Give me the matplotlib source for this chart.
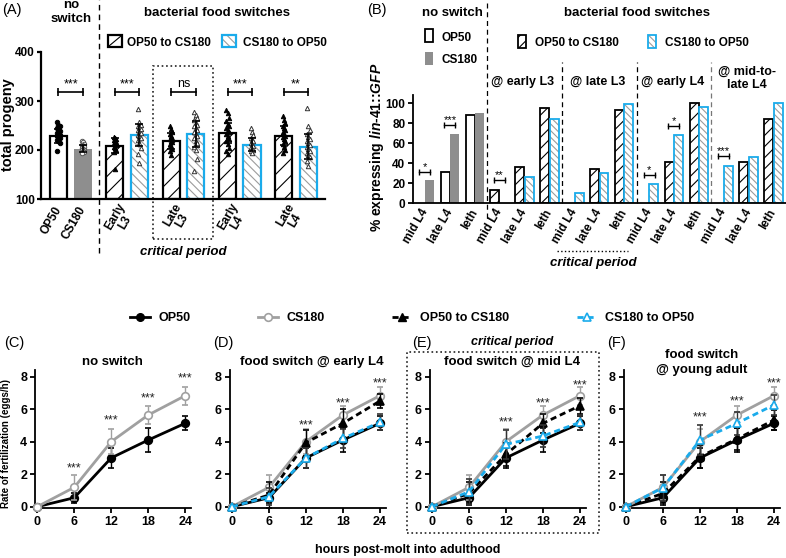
import numpy as np
import matplotlib
matplotlib.use("Agg")
import matplotlib.pyplot as plt
from matplotlib.lines import Line2D
from matplotlib.patches import Rectangle

plt.rcParams['font.family'] = ['Liberation Sans', 'DejaVu Sans']
plt.rcParams['font.weight'] = 'bold'
plt.rcParams['mathtext.fontset'] = 'custom'
plt.rcParams['mathtext.it'] = 'Liberation Sans:bold:italic'
plt.rcParams['mathtext.rm'] = 'Liberation Sans:bold'
plt.rcParams['hatch.linewidth'] = 0.8

W, H = 786, 558
BLUE = '#1aabeb'
GRAY = '#8e8e8e'      # CS180 bar fill
LGRAY = '#a0a0a0'     # CS180 line
HGRAY = '#9c9c9c'     # hatch of CS180 -> OP50 bars

# ---------------- data (A): total progeny ----------------
a_labels = ['OP50', 'CS180', 'Early\nL3', 'Late\nL3', 'Early\nL4', 'Late\nL4']
a_mean = [229, 203, 209, 231, 219, 233, 235, 211, 229, 207]
a_sd = [14, 8, 15, 22, 16, 27, 21, 14, 19, 26]
a_points = [
    [257, 252, 248, 244, 241, 238, 235, 233, 231, 229, 227, 224, 221, 218, 214, 197],
    [219, 216, 213, 211, 209, 207, 205, 203, 201, 199, 197, 195, 193],
    [226, 224, 222, 220, 218, 216, 214, 212, 210, 207, 204, 200, 196, 162],
    [284, 257, 252, 249, 246, 243, 240, 237, 234, 231, 228, 224, 220, 214, 205, 191, 174],
    [248, 242, 237, 233, 229, 225, 222, 219, 216, 212, 208, 203, 198, 190],
    [278, 272, 266, 261, 256, 252, 248, 244, 240, 236, 232, 228, 224, 219, 214, 207, 199, 182, 157],
    [282, 276, 266, 259, 253, 248, 244, 240, 236, 232, 228, 223, 218, 212, 205, 198, 192],
    [245, 236, 230, 225, 221, 218, 215, 212, 209, 206, 203, 200, 197, 193],
    [270, 262, 255, 249, 244, 240, 236, 232, 229, 226, 222, 218, 213, 207, 200, 194],
    [285, 248, 240, 233, 227, 222, 218, 214, 210, 206, 202, 198, 194, 190, 185, 178, 168],
]
a_sig = ['***', '***', 'ns', '***', '**']

# ---------------- data (B): % expressing lin-41::GFP ----------------
b_labels = ['mid L4', 'late L4', 'leth'] * 5
b_first = [0, 31, 88, 13, 36, 95, 0, 34, 93, 0, 41, 100, 0, 41, 84]    # OP50 / OP50 to CS180
b_second = [23, 69, 90, 0, 26, 84, 10, 30, 99, 19, 68, 96, 37, 46, 100]  # CS180 / CS180 to OP50
b_sig_cat = [0, 1, 3, 9, 10, 12]
b_sig_y = [31, 78, 23, 28, 77, 47]
b_sig_txt = ['*', '***', '**', '*', '*', '***']
b_groups = ['@ early L3', '@ late L3', '@ early L4', '@ mid-to-\nlate L4']

# ---------------- data (C-F): rate of fertilization ----------------
hours = [0, 6, 12, 18, 24]
rate_op50 = [0, 0.55, 3.0, 4.1, 5.13]
sd_op50 = [0, 0.3, 0.6, 0.72, 0.43]
rate_cs180 = [0, 1.19, 4.0, 5.64, 6.83]
sd_cs180 = [0, 0.77, 0.77, 0.55, 0.55]
rate_op2cs_earlyL4 = [0, 0.72, 3.94, 5.13, 6.5]
sd_op2cs_earlyL4 = [0, 0.8, 0.8, 0.9, 0.45]
rate_cs2op_earlyL4 = [0, 0.62, 3.0, 4.2, 5.19]
sd_cs2op_earlyL4 = [0, 0.5, 0.6, 0.6, 0.5]
rate_op2cs_midL4 = [0, 0.82, 3.22, 5.13, 6.21]
sd_op2cs_midL4 = [0, 0.7, 0.7, 0.6, 0.5]
rate_cs2op_midL4 = [0, 0.92, 3.84, 4.35, 5.19]
sd_cs2op_midL4 = [0, 0.8, 0.9, 0.7, 0.45]
rate_op2cs_ya = [0, 0.82, 3.08, 4.17, 5.33]
sd_op2cs_ya = [0, 0.7, 0.7, 0.7, 0.6]
rate_cs2op_ya = [0, 1.17, 4.1, 5.13, 6.26]
sd_cs2op_ya = [0, 0.8, 0.9, 0.7, 0.6]
sig_hours_c = [6, 12, 18, 24]
sig_y_c = [2.56, 5.54, 6.87, 8.1]
sig_hours = [12, 18, 24]
sig_y_d = [5.23, 6.6, 7.8]
sig_y_e = [5.37, 6.6, 7.7]
sig_y_f = [5.68, 6.67, 7.8]

fig = plt.figure(figsize=(W / 100, H / 100), dpi=100)


def px_axes(left, top, right, bottom):
    return fig.add_axes([left / W, 1 - bottom / H, (right - left) / W, (bottom - top) / H])


def ftext(x, y, s, **kw):
    return fig.text(x / W, 1 - y / H, s, **kw)


def fbox(x0, y0, x1, y1, **kw):
    r = Rectangle((x0 / W, 1 - y1 / H), (x1 - x0) / W, (y1 - y0) / H,
                  transform=fig.transFigure, **kw)
    fig.add_artist(r)


def fline(xs, ys, **kw):
    fig.add_artist(Line2D([x / W for x in xs], [1 - y / H for y in ys],
                          transform=fig.transFigure, **kw))


def style_axes(ax, lw, size):
    for s in ('top', 'right'):
        ax.spines[s].set_visible(False)
    for s in ('left', 'bottom'):
        ax.spines[s].set_linewidth(lw)
    ax.tick_params(width=lw, length=3.5, labelsize=size, pad=2)


# =============== (A) ===============
axA = px_axes(41, 52, 325, 199)
a_pos = np.array([0, 1] + [2.3 * (i + 1) + k for i in range(4) for k in (0, 1)])
for i, (x, m) in enumerate(zip(a_pos, a_mean)):
    if i == 0:
        axA.bar(x, m - 100, 0.7, bottom=100, color='white', edgecolor='black', lw=1.6, zorder=2)
    elif i == 1:
        axA.bar(x, m - 100, 0.7, bottom=100, color=GRAY, lw=0, zorder=2)
    elif i % 2 == 0:
        axA.bar(x, m - 100, 0.7, bottom=100, color='white', edgecolor='black', hatch='//', lw=1.6, zorder=2)
    else:
        axA.bar(x, m - 100, 0.7, bottom=100, color='white', edgecolor=HGRAY, hatch='\\\\\\\\', lw=0, zorder=2)
        axA.bar(x, m - 100, 0.7, bottom=100, color='none', edgecolor=BLUE, lw=1.6, zorder=2)

marker_style = [dict(marker='o', mfc='black', mec='black'),
                dict(marker='o', mfc='white', mec='#555555')]
for i, pts in enumerate(a_points):
    if i < 2:
        st = marker_style[i]
    elif i % 2 == 0:
        st = dict(marker='^', mfc='black', mec='black')
    else:
        st = dict(marker='^', mfc='white', mec='#333333')
    off = ((np.arange(len(pts)) % 3) - 1) * 0.05
    axA.plot(a_pos[i] + off, pts, ls='none', ms=3.2, mew=0.7, zorder=3, **st)
axA.errorbar(a_pos, a_mean, yerr=a_sd, fmt='none', ecolor='black', elinewidth=1.2,
             capsize=3, capthick=1.2, zorder=4)

for k, lab in enumerate(a_sig):
    x1, x2 = a_pos[2 * k], a_pos[2 * k + 1]
    axA.plot([x1, x2], [318, 318], color='black', lw=1.2, marker='|', ms=6, mew=1.2)
    axA.text((x1 + x2) / 2, 328, lab, ha='center', va='baseline', fontsize=9, fontweight='normal')

axA.set_xlim(-0.714, 10.88)
axA.set_ylim(100, 400)
axA.set_yticks([100, 200, 300, 400])
tick_x = [a_pos[0], a_pos[1]] + [(a_pos[2 * k] + a_pos[2 * k + 1]) / 2 for k in range(1, 5)]
axA.set_xticks(tick_x)
axA.set_xticklabels(a_labels, rotation=60, ha='right', va='center', rotation_mode='anchor',
                    multialignment='center', fontsize=10, linespacing=0.9)
style_axes(axA, 1.6, 8.5)
axA.tick_params(axis='x', length=0, pad=6)
axA.tick_params(axis='y', length=3, pad=1.5)
axA.axvline((a_pos[1] + a_pos[2]) / 2, ymin=-0.367, ymax=1.354, color='black', lw=1.0,
            ls=(0, (4, 3)), clip_on=False)
axA.add_patch(Rectangle((a_pos[4] - 0.74, 18), a_pos[5] - a_pos[4] + 1.45, 353, fill=False,
                        ls=':', lw=1.2, ec='#222222', clip_on=False))

ftext(2, 14, '(A)', fontsize=10.5, fontweight='normal', va='baseline')
ftext(71, 8, 'no', fontsize=9.5, ha='center', va='baseline')
ftext(71, 22.5, 'switch', fontsize=9.5, ha='center', va='baseline')
ftext(217, 16.5, 'bacterial food switches', fontsize=9.5, ha='center', va='baseline')
fbox(108, 35, 122, 47, facecolor='white', edgecolor='black', lw=1.6)
fline([109, 121], [46, 36], color='black', lw=0.8)
ftext(127, 46.5, 'OP50 to CS180', fontsize=8.5, va='baseline')
fbox(222, 35, 236, 47, facecolor='white', edgecolor=HGRAY, hatch='\\\\\\\\', lw=0)
fbox(222, 35, 236, 47, facecolor='none', edgecolor=BLUE, lw=1.6)
ftext(243, 46.5, 'CS180 to OP50', fontsize=8.5, va='baseline')
ftext(8, 125, 'total progeny', fontsize=10.5, rotation=90, ha='center', va='center')
ftext(183, 252, 'critical period', fontsize=9.5, style='italic', ha='center', va='center')

# =============== (B) ===============
axB = px_axes(413, 95, 786, 203)
bx = np.arange(len(b_labels))
for i in bx:
    h1, h2 = b_first[i], b_second[i]
    if i < 3:
        if h1 > 0:
            axB.bar(i - 0.19, h1, 0.36, color='white', edgecolor='black', lw=1.3, zorder=2)
        if h2 > 0:
            axB.bar(i + 0.19, h2, 0.36, color=GRAY, lw=0, zorder=2)
    else:
        if h1 > 0:
            axB.bar(i - 0.19, h1, 0.36, color='white', edgecolor='black', hatch='///', lw=1.3, zorder=2)
        if h2 > 0:
            axB.bar(i + 0.19, h2, 0.36, color='white', edgecolor=HGRAY, hatch='\\\\\\\\\\', lw=0, zorder=2)
            axB.bar(i + 0.19, h2, 0.36, color='none', edgecolor=BLUE, lw=1.3, zorder=2)

for c, y, t in zip(b_sig_cat, b_sig_y, b_sig_txt):
    axB.plot([c - 0.22, c + 0.22], [y, y], color='black', lw=1.0, marker='|', ms=5, mew=1.0)
    axB.text(c, y + 1.5, t, ha='center', va='baseline', fontsize=8, fontweight='normal')

axB.set_xlim(-0.48, 14.5)
axB.set_ylim(0, 108)
axB.set_yticks([0, 20, 40, 60, 80, 100])
axB.set_xticks(bx)
axB.set_xticklabels(b_labels, rotation=60, ha='right', va='center', rotation_mode='anchor', fontsize=8.5)
style_axes(axB, 1.3, 8.5)
axB.tick_params(axis='x', length=0, pad=5)
axB.axvline(2.5, ymin=-0.14, ymax=1.88, color='black', lw=0.9, ls=(0, (4, 3)), clip_on=False)
for xd, col in zip([5.5, 8.5, 11.5], ['black', 'black', '#777777']):
    axB.axvline(xd, ymin=0, ymax=1.306, color=col, lw=0.9, ls=(0, (4, 3)), clip_on=False)

ftext(367, 14, '(B)', fontsize=10.5, fontweight='normal', va='baseline')
ftext(452, 15.5, 'no switch', fontsize=9.5, ha='center', va='baseline')
ftext(637, 16.5, 'bacterial food switches', fontsize=9.5, ha='center', va='baseline')
fbox(425, 29, 433, 42, facecolor='white', edgecolor='black', lw=1.3)
ftext(441, 41, 'OP50', fontsize=8.5, va='baseline')
fbox(425, 52, 433, 65, facecolor=GRAY, edgecolor='none', lw=0)
ftext(441, 63, 'CS180', fontsize=8.5, va='baseline')
fbox(518, 35, 526, 48, facecolor='white', edgecolor='black', hatch='///', lw=1.3)
ftext(535, 46, 'OP50 to CS180', fontsize=8.5, va='baseline')
fbox(648, 35, 656, 48, facecolor='white', edgecolor=HGRAY, hatch='\\\\\\\\\\', lw=0)
fbox(648, 35, 656, 48, facecolor='none', edgecolor=BLUE, lw=1.3)
ftext(665, 46, 'CS180 to OP50', fontsize=8.5, va='baseline')
for lab, xc in zip(b_groups, [523, 598, 673, 747]):
    if '\n' in lab:
        ftext(xc, 78, lab, fontsize=9, ha='center', va='center', linespacing=1.15)
    else:
        ftext(xc, 82, lab, fontsize=9, ha='center', va='center')
ftext(377, 147, '% expressing $\\mathit{lin}$-$\\mathit{41}$::$\\mathit{GFP}$', fontsize=10,
      rotation=90, ha='center', va='center')
fline([557, 628], [251, 251], color='black', lw=1.0, ls=':')
ftext(593, 263, 'critical period', fontsize=9.5, style='italic', ha='center', va='center')

# =============== (C)-(F) ===============
DASH = (0, (2.2, 1.4))


def draw_line(ax, y, err, color, ls, marker, mfc, mec, z):
    ax.errorbar(hours, y, yerr=err, color=color, lw=2, ls=ls, marker=marker, ms=5.5, mfc=mfc,
                mec=mec, mew=1.2, elinewidth=1.0, ecolor=color if color != BLUE else '#333333',
                capsize=2, capthick=1.0, zorder=z, clip_on=False)


panels = [
    (37.3, None, None, sig_hours_c, sig_y_c),
    (232, (rate_op2cs_earlyL4, sd_op2cs_earlyL4), (rate_cs2op_earlyL4, sd_cs2op_earlyL4), sig_hours, sig_y_d),
    (432, (rate_op2cs_midL4, sd_op2cs_midL4), (rate_cs2op_midL4, sd_cs2op_midL4), sig_hours, sig_y_e),
    (626, (rate_op2cs_ya, sd_op2cs_ya), (rate_cs2op_ya, sd_cs2op_ya), sig_hours, sig_y_f),
]
sx = 6.16
for x0, op2cs, cs2op, sh, sy in panels:
    ax = px_axes(x0 - 0.4 * sx, 370.2, x0 + 25 * sx, 508.3)
    draw_line(ax, rate_op50, sd_op50, 'black', '-', 'o', 'black', 'black', 3)
    draw_line(ax, rate_cs180, sd_cs180, LGRAY, '-', 'o', 'white', LGRAY, 4)
    if op2cs is not None:
        draw_line(ax, op2cs[0], op2cs[1], 'black', DASH, '^', 'black', 'black', 5)
        draw_line(ax, cs2op[0], cs2op[1], BLUE, DASH, '^', 'white', BLUE, 6)
    for h, y in zip(sh, sy):
        ax.text(h, y - 0.4, '***', ha='center', va='baseline', fontsize=9, fontweight='normal',
                color='#222222')
    ax.set_xlim(-0.4, 25)
    ax.set_ylim(-0.1, 8.4)
    ax.set_xticks([0, 6, 12, 18, 24])
    ax.set_yticks([0, 2, 4, 6, 8])
    style_axes(ax, 1.3, 9)

ftext(4, 347, '(C)', fontsize=10.5, fontweight='normal', va='baseline')
ftext(213, 347, '(D)', fontsize=10.5, fontweight='normal', va='baseline')
ftext(412, 347, '(E)', fontsize=10.5, fontweight='normal', va='baseline')
ftext(607, 347, '(F)', fontsize=10.5, fontweight='normal', va='baseline')
ftext(112, 362, 'no switch', fontsize=9.5, ha='center', va='center')
ftext(312, 362, 'food switch @ early L4', fontsize=9.5, ha='center', va='center')
ftext(512, 342, 'critical period', fontsize=9, style='italic', ha='center', va='center')
ftext(512, 362, 'food switch @ mid L4', fontsize=9.5, ha='center', va='center')
ftext(702, 355, 'food switch', fontsize=9.5, ha='center', va='center')
ftext(702, 370, '@ young adult', fontsize=9.5, ha='center', va='center')
fbox(407, 352, 599, 533, fill=False, ls=':', lw=1.2, ec='#222222')
ftext(6, 443, 'Rate of fertilization (eggs/h)', fontsize=7, rotation=90, ha='center', va='center')
ftext(408, 550, 'hours post-molt into adulthood', fontsize=9, ha='center', va='center')

handles = [
    Line2D([], [], color='black', lw=2, marker='o', ms=5.5, mfc='black', mec='black', label='OP50'),
    Line2D([], [], color=LGRAY, lw=2, marker='o', ms=5.5, mfc='white', mec=LGRAY, mew=1.2, label='CS180'),
    Line2D([], [], color='black', lw=2, ls=DASH, marker='^', ms=5.5, mfc='black', mec='black',
           label='OP50 to CS180'),
    Line2D([], [], color=BLUE, lw=2, ls=DASH, marker='^', ms=5.5, mfc='white', mec=BLUE, mew=1.2,
           label='CS180 to OP50'),
]
fig.legend(handles=handles, loc='center', bbox_to_anchor=(412 / W, 1 - 318 / H), ncol=4,
           frameon=False, fontsize=9, handlelength=1.6, handletextpad=0.65, columnspacing=5.4)

fig.savefig('out.png', dpi=100)
